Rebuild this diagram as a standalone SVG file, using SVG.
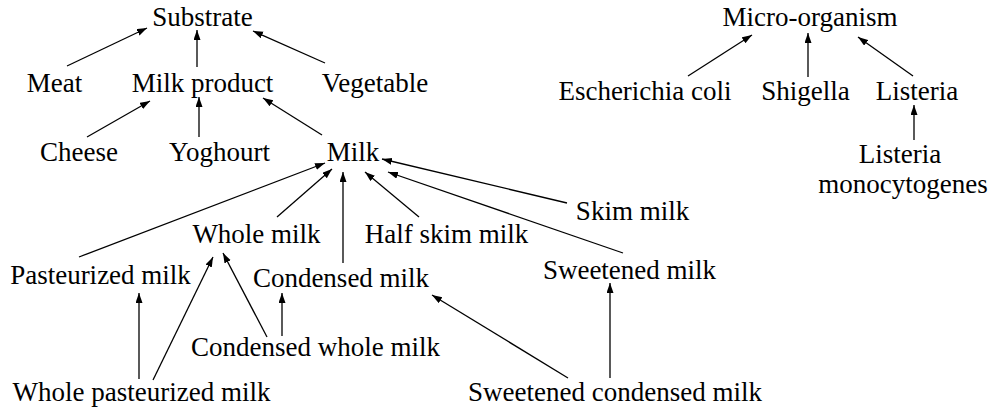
<svg xmlns="http://www.w3.org/2000/svg" width="988" height="410" viewBox="0 0 988 410">
<style>
text{font-family:"Times New Roman","Liberation Serif",Tinos,"Noto Serif","DejaVu Serif","Nimbus Roman","FreeSerif",Times,serif;font-size:27px;fill:#000;text-anchor:middle}
.c line{stroke:#000;stroke-width:1.3;marker-end:url(#ah)}
</style>
<defs>
<marker id="ah" markerUnits="userSpaceOnUse" markerWidth="11" markerHeight="8" refX="10" refY="3.5" orient="auto">
<path d="M0,0 L10,3.5 L0,7 z" fill="#000"/>
</marker>
</defs>
<rect width="988" height="410" fill="#fff"/>
<g id="connectors" class="c">
<line x1="67" y1="66" x2="147" y2="28"/>
<line x1="197" y1="67" x2="197" y2="30"/>
<line x1="325" y1="63" x2="253" y2="31"/>
<line x1="87" y1="137" x2="150" y2="101"/>
<line x1="199" y1="137" x2="199" y2="97"/>
<line x1="322" y1="135" x2="263" y2="98"/>
<line x1="79" y1="257" x2="325" y2="163"/>
<line x1="277" y1="217" x2="332" y2="169"/>
<line x1="343" y1="263" x2="343" y2="172"/>
<line x1="419" y1="217" x2="365" y2="172"/>
<line x1="623" y1="253" x2="388" y2="172"/>
<line x1="567" y1="203" x2="382" y2="159"/>
<line x1="153" y1="380" x2="213" y2="257"/>
<line x1="139" y1="379" x2="139" y2="293"/>
<line x1="267" y1="337" x2="223" y2="253"/>
<line x1="282" y1="336" x2="282" y2="293"/>
<line x1="568" y1="378" x2="432" y2="295"/>
<line x1="610" y1="378" x2="610" y2="283"/>
<line x1="688" y1="76" x2="752" y2="35"/>
<line x1="808" y1="77" x2="808" y2="33"/>
<line x1="913" y1="76" x2="858" y2="37"/>
<line x1="914" y1="140" x2="914" y2="105"/>
</g>
<g id="substrate"><text x="202.5" y="26">Substrate</text></g>
<g id="meat"><text x="54.5" y="92">Meat</text></g>
<g id="milk-product"><text x="202.5" y="92">Milk product</text></g>
<g id="vegetable"><text x="375" y="92">Vegetable</text></g>
<g id="cheese"><text x="79" y="161">Cheese</text></g>
<g id="yoghourt"><text x="219.5" y="161">Yoghourt</text></g>
<g id="milk"><text x="353" y="161">Milk</text></g>
<g id="skim-milk"><text x="632.5" y="220">Skim milk</text></g>
<g id="whole-milk"><text x="256.5" y="243">Whole milk</text></g>
<g id="half-skim-milk"><text x="446.5" y="243">Half skim milk</text></g>
<g id="pasteurized-milk"><text x="100.5" y="284">Pasteurized milk</text></g>
<g id="condensed-milk"><text x="341" y="287">Condensed milk</text></g>
<g id="sweetened-milk"><text x="629.5" y="279">Sweetened milk</text></g>
<g id="condensed-whole-milk"><text x="315.5" y="356">Condensed whole milk</text></g>
<g id="whole-pasteurized-milk"><text x="141.5" y="401">Whole pasteurized milk</text></g>
<g id="sweetened-condensed-milk"><text x="615" y="401">Sweetened condensed milk</text></g>
<g id="micro-organism"><text x="810" y="26">Micro-organism</text></g>
<g id="escherichia-coli"><text x="645" y="100">Escherichia coli</text></g>
<g id="shigella"><text x="805.5" y="100">Shigella</text></g>
<g id="listeria"><text x="917" y="100">Listeria</text></g>
<g id="listeria-monocytogenes"><text x="900" y="163">Listeria</text><text x="903" y="193">monocytogenes</text></g>
</svg>
